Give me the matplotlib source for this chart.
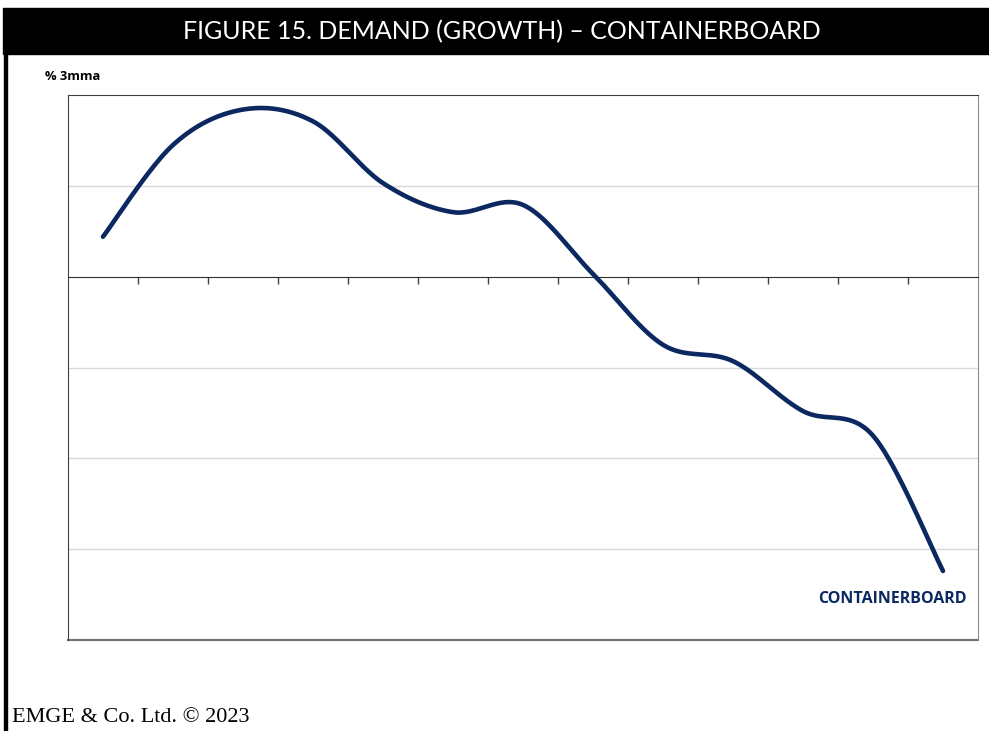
import numpy as np
import matplotlib.pyplot as plt
from matplotlib.patches import Rectangle

# 3-month moving average growth, %, one value per period
periods = np.arange(13)
growth = [0.44, 1.45, 1.84, 1.71, 1.03, 0.71, 0.79, 0.03, -0.75, -0.93, -1.48, -1.75, -3.24]
series_name = "CONTAINERBOARD"
title = "FIGURE 15. DEMAND (GROWTH) \u2013 CONTAINERBOARD"

navy = "#0b2860"


def smooth(x, y, n=40):
    # Excel-style smoothed line (Catmull-Rom through the points)
    x = np.asarray(x, float)
    y = np.asarray(y, float)
    px = np.concatenate([[x[0]], x, [x[-1]]])
    py = np.concatenate([[y[0]], y, [y[-1]]])
    xs, ys = [], []
    t = np.linspace(0, 1, n)
    for i in range(1, len(px) - 2):
        p0, p1, p2, p3 = py[i - 1], py[i], py[i + 1], py[i + 2]
        q0, q1, q2, q3 = px[i - 1], px[i], px[i + 1], px[i + 2]
        c1y = p1 + (p2 - p0) / 6
        c2y = p2 - (p3 - p1) / 6
        c1x = q1 + (q2 - q0) / 6
        c2x = q2 - (q3 - q1) / 6
        b = [(1 - t) ** 3, 3 * (1 - t) ** 2 * t, 3 * (1 - t) * t ** 2, t ** 3]
        xs.append(b[0] * q1 + b[1] * c1x + b[2] * c2x + b[3] * q2)
        ys.append(b[0] * p1 + b[1] * c1y + b[2] * c2y + b[3] * p2)
    return np.concatenate(xs), np.concatenate(ys)


fig = plt.figure(figsize=(9.89, 7.31), dpi=100)

# title bar and left rule
fig.patches.append(Rectangle((3 / 989, 1 - 54 / 731), 1, 46 / 731, transform=fig.transFigure,
                             color="black", zorder=0))
fig.patches.append(Rectangle((4 / 989, 0), 3 / 989, 1 - 54 / 731, transform=fig.transFigure,
                             color="black", zorder=0))
fig.text(502 / 989, 1 - 32 / 731, title, color="white", fontsize=18, family="Lato",
         fontweight="normal", ha="center", va="center")

ax = fig.add_axes([68 / 989, 1 - 640 / 731, 910 / 989, 545 / 731])
sx, sy = smooth(periods, growth)
ax.plot(sx, sy, color=navy, lw=3.3, solid_capstyle="round", zorder=3)

ax.set_xlim(-0.5, 12.5)
ax.set_ylim(-4, 2)
ax.set_yticks([-3, -2, -1, 1])
ax.yaxis.grid(True, color="#d9d9d9", lw=1)
ax.tick_params(axis="y", length=0, labelleft=False)
ax.set_xticks(periods[:-1] + 0.5)
ax.tick_params(axis="x", direction="out", length=5, width=1, color="#404040", labelbottom=False)

ax.spines["bottom"].set_position(("data", 0))
ax.spines["bottom"].set_color("#303030")
for s in ["top", "left"]:
    ax.spines[s].set_color("#404040")
ax.spines["right"].set_color("#8c8c8c")
ax.axhline(-4, color="#707070", lw=1.5, clip_on=False)

ax.text(0.988, 0.075, series_name, transform=ax.transAxes, color=navy, fontsize=11.5,
        fontweight="bold", family="Open Sans", ha="right", va="center")

fig.text(45 / 989, 1 - 76 / 731, "% 3mma", fontsize=9.3, fontweight="bold", family="Open Sans",
         va="center")
fig.text(12 / 989, 1 - 718 / 731, "EMGE & Co. Ltd. \u00a9 2023", fontsize=16,
         family="Liberation Serif", va="center")

fig.savefig("out.png", dpi=100)
